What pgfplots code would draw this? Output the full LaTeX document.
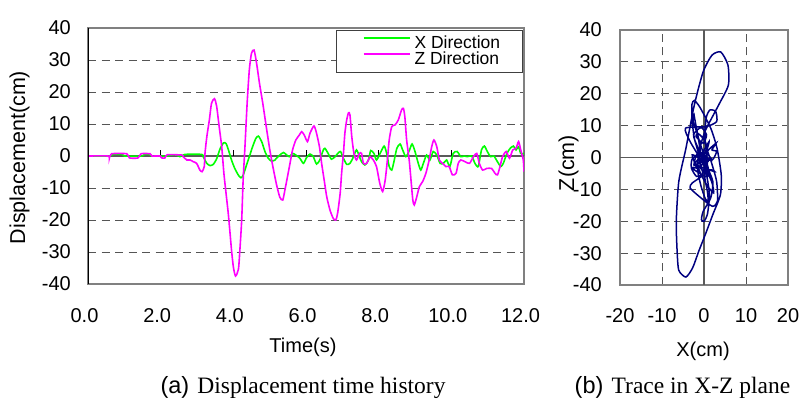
\documentclass[border=0pt]{standalone}
\usepackage{fontspec}
\setmainfont{Liberation Sans}
\newfontfamily\capfont{Liberation Serif}
\usepackage{pgfplots}
\usepackage{pgfplotstable}
\pgfplotsset{compat=1.18}

\definecolor{xgreen}{RGB}{0,255,0}
\definecolor{zmag}{RGB}{255,0,255}
\definecolor{navytrace}{RGB}{0,0,128}
\definecolor{framegray}{RGB}{128,128,128}
\definecolor{gridgray}{RGB}{85,85,85}
\definecolor{zerogray}{RGB}{90,90,90}

% X direction displacement time history
\pgfplotstableread{
t x
0.00 0
0.60 0
0.68 0.5
0.95 0.5
1.00 0
1.48 0
1.55 0.5
1.70 0.5
1.75 0
2.20 0
2.26 0.3
2.44 0.3
2.53 -0.2
2.67 0.5
3.13 0.5
3.17 -0.2
3.27 -2.3
3.36 -3.0
3.45 -2.6
3.54 -0.9
3.63 2.1
3.73 4.1
3.80 3.9
3.86 2.1
3.95 -1.25
4.04 -3.9
4.14 -6.0
4.21 -6.8
4.27 -6.0
4.35 -3.3
4.44 -0.2
4.53 2.9
4.62 5.5
4.69 6.2
4.78 4.5
4.87 1.4
4.96 -0.7
5.05 -1.6
5.14 -1.3
5.19 -0.7
5.28 0.3
5.38 1.1
5.47 0.3
5.54 -0.2
5.63 0.8
5.72 0.3
5.83 -0.7
5.93 -2.3
6.02 -0.4
6.11 0.6
6.20 -0.2
6.29 -2.5
6.38 -1.25
6.47 1.7
6.52 2.4
6.61 0.8
6.70 -1.0
6.80 -0.2
6.89 1.0
6.95 1.4
7.03 -0.7
7.12 -2.6
7.21 -2.3
7.30 -0.4
7.39 1.9
7.47 -0.2
7.53 -1.8
7.62 -2.8
7.72 -1.25
7.78 1.7
7.87 0.8
7.94 -1.25
8.04 0.8
8.15 3.1
8.22 0.8
8.29 -3.3
8.36 -4.4
8.42 -1.8
8.50 2.4
8.59 3.75
8.66 1.9
8.75 -0.2
8.85 1.9
8.92 3.75
9.00 1.4
9.09 -2.3
9.16 -4.4
9.23 -2.3
9.32 0.3
9.41 -1.25
9.50 1.4
9.60 0.3
9.69 -2.3
9.78 -2.3
9.87 -1.25
9.96 -3.3
10.05 0.8
10.16 1.4
10.26 -0.2
10.35 0
10.44 -0.2
10.56 0
10.65 -2.3
10.74 -3.3
10.83 1.9
10.91 3.1
10.99 1.4
11.08 -0.2
11.17 0
11.27 -1.8
11.36 -3.3
11.43 -2.3
11.53 0.8
11.62 2.4
11.71 3.1
11.78 1.9
11.85 2.9
11.91 0.8
12.00 0.8
}\xtab

% Z direction (with X read at the same instants) for the time history and the X-Z trace
\pgfplotstableread{
t x z
0.00 0 0
0.55 0 0
0.59 0 -0.6
0.65 0.4 0.7
1.07 0.2 0.7
1.14 0 -0.6
1.38 0 -0.6
1.46 0 0.7
1.71 0.5 0.7
1.76 0 0
1.98 0 0
2.03 0 -0.6
2.12 0 -0.6
2.18 0 0.4
2.58 0 0.3
2.62 0.3 -0.2
2.72 0.5 -1.25
2.81 0.5 -1.25
2.90 0.5 -1.8
2.99 0.5 -2.3
3.08 0.5 -4.4
3.14 0.4 -4.9
3.20 -0.8 -3.3
3.22 -1.2 0.8
3.27 -2.3 6.0
3.34 -2.8 11.25
3.40 -2.9 16.5
3.48 -2.3 17.9
3.54 -0.9 15.6
3.61 1.6 9.2
3.68 3.1 2.9
3.74 4.1 -5.4
3.80 3.9 -11.7
3.86 2.1 -17.9
3.91 0.3 -24.2
3.95 -1.25 -29.4
4.00 -2.7 -34.6
4.06 -4.3 -37.5
4.14 -6.0 -35.4
4.18 -6.4 -29.4
4.23 -6.6 -20
4.27 -6.0 -7.5
4.32 -4.3 2.9
4.38 -2.3 16.5
4.44 -0.2 26.9
4.50 1.9 32.1
4.57 4.0 33.1
4.64 5.7 29
4.72 5.8 22.7
4.81 3.5 16.5
4.92 0.2 8.1
5.01 -1.2 1.5
5.10 -1.5 -4
5.19 -0.7 -9
5.28 0.3 -12.9
5.36 1.0 -13.75
5.42 0.8 -10.6
5.49 0.2 -6.5
5.56 0.1 -2.3
5.63 0.8 1.9
5.72 0.3 5
5.82 -0.6 6.6
5.88 -1.5 7.6
5.95 -1.9 6.6
6.04 -0.2 4.5
6.11 0.6 7.1
6.22 -0.7 9.4
6.29 -2.5 7.1
6.37 -1.4 2.9
6.43 0.5 -2.3
6.50 2.1 -7.5
6.57 1.6 -12.7
6.66 -0.2 -16.9
6.75 -0.6 -19.5
6.82 0 -20
6.87 0.8 -17.9
6.94 1.3 -11.7
6.98 0.6 -5.4
7.03 -0.7 0.8
7.07 -1.5 7.1
7.12 -2.6 11.25
7.17 -2.4 13.5
7.21 -2.3 12.8
7.26 -1.3 6.0
7.32 0.1 0.8
7.39 1.9 -1.25
7.47 -0.2 0.8
7.53 -1.8 0.8
7.58 -2.4 -2.3
7.67 -2.0 -2.3
7.76 1.0 -0.3
7.85 1.0 -1.2
7.94 -1.25 -3.3
8.03 0.6 -8.5
8.11 2.3 -11.1
8.18 1.8 -7.5
8.24 -0.5 -1.25
8.29 -3.3 5
8.36 -4.4 9.2
8.45 0.5 9.7
8.54 3.0 11.25
8.63 2.8 14.4
8.68 1.4 14.9
8.72 0.5 12.3
8.77 0.2 5
8.84 1.7 -1.25
8.89 3.0 -7.5
8.94 3.2 -13.75
8.98 2.0 -15.3
9.05 -0.7 -12.7
9.12 -3.3 -9.6
9.21 -2.8 -8.0
9.30 -0.3 -5.4
9.39 -0.9 -1.25
9.46 0.8 2.9
9.52 1.2 5.0
9.60 0.3 2.9
9.67 -1.8 -1.25
9.76 -2.3 -2.3
9.85 -1.5 -3.3
9.94 -2.9 -3.3
10.03 0.2 -5.9
10.13 1.2 -5.4
10.19 0.8 -2.3
10.26 -0.2 -1.25
10.38 -0.1 -1.8
10.50 -0.1 -2.3
10.61 -1.2 -0.2
10.70 -2.8 0.8
10.77 -1.8 -2.3
10.86 2.4 -4.4
10.97 1.8 -3.9
11.11 -0.1 -3.9
11.20 -0.4 -5.4
11.27 -1.8 -5.9
11.34 -3.0 -3.3
11.41 -2.7 -0.2
11.51 0.5 1.4
11.60 2.0 -0.7
11.69 3.0 1.9
11.78 1.9 2.4
11.85 2.9 4.5
11.91 0.8 1.9
11.98 0.8 -1.25
12.00 0.8 -4.9
}\xztab

\pgfplotsset{
  myaxis/.style={
    scale only axis,
    anchor=south west,
    axis line style={draw=framegray, line width=1.8bp},
    major tick length=0pt,
    tick style={draw=none},
    grid style={draw=gridgray, line width=0.9bp, dash pattern=on 8bp off 5.5bp},
    ymajorgrids,
    tick label style={font=\fontsize{20bp}{24bp}\selectfont},
    yticklabel style={anchor=east, inner sep=0pt},
    xticklabel style={anchor=base, inner sep=0pt},
  }
}

\begin{document}
\begin{tikzpicture}
\path[use as bounding box] (0bp,0bp) rectangle (810bp,405bp);

% ---------- (a) time history ----------
\begin{axis}[myaxis,
  at={(88bp,121bp)}, width=436bp, height=256bp,
  xmin=0, xmax=12, ymin=-40, ymax=40,
  xtick={0,2,4,6,8,10,12}, xticklabels={0.0,2.0,4.0,6.0,8.0,10.0,12.0},
  ytick={-40,-30,-20,-10,0,10,20,30,40},
  yticklabels={-40,-30,-20,-10,0,10,20,30,40},
  xticklabel style={xshift=-3.5bp, yshift=-38.5bp},
  yticklabel style={xshift=-17bp},
  legend cell align=left,
  legend image code/.code={\path (0bp,0bp); \draw[#1] (26bp,5.5bp) -- (72bp,5.5bp);},
  legend style={at={(0.998,0.992)}, anchor=north east,
    draw=black!75, line width=1bp, fill=white,
    inner xsep=0.5bp, inner ysep=5bp,
    font=\fontsize{17.5bp}{20bp}\selectfont,
    nodes={inner sep=0pt, text height=12.5bp, text depth=3.5bp},
    row sep=0pt, column sep=4bp},
]
\draw[zerogray, line width=1.3bp] (axis cs:0,0) -- (axis cs:12,0);
\pgfplotsinvokeforeach{2,4,6,8,10,12}{\draw[black, line width=1bp] (axis cs:#1,0) -- ++(0bp,6bp);}
\addplot[xgreen, line width=1.6bp, smooth, tension=0.4] table[x=t, y=x] {\xtab};
\addlegendentry{X Direction\hspace*{22bp}}
\addplot[zmag, line width=1.6bp, smooth, tension=0.4] table[x=t, y=z] {\xztab};
\addlegendentry{Z Direction\hspace*{22bp}}
\draw[black, line width=1.6bp] (rel axis cs:0,0) -- (rel axis cs:0,1);
\end{axis}

% ---------- (b) trace in X-Z plane ----------
\begin{axis}[myaxis,
  at={(620bp,120bp)}, width=168bp, height=255bp,
  xmin=-20, xmax=20, ymin=-40, ymax=40,
  xtick={-20,-10,0,10,20}, xticklabels={-20,-10,0,10,20},
  ytick={-40,-30,-20,-10,0,10,20,30,40},
  yticklabels={-40,-30,-20,-10,0,10,20,30,40},
  xmajorgrids,
  xticklabel style={yshift=-37.5bp},
  yticklabel style={xshift=-18bp},
]
\draw[zerogray, line width=1.3bp] (axis cs:0,-40) -- (axis cs:0,40);
\draw[zerogray, line width=1.3bp] (axis cs:-20,0) -- (axis cs:20,0);
\addplot[navytrace, line width=1.5bp, smooth, tension=0.4] table[x=x, y=z] {\xztab};
\end{axis}

% ---------- labels and captions ----------
\node[rotate=90, anchor=base, font=\fontsize{21.5bp}{25bp}\selectfont] at (25bp,247.5bp) {Displacement(cm)};
\node[anchor=base, font=\fontsize{20bp}{24bp}\selectfont] at (303bp,52bp) {Time(s)};
\node[rotate=90, anchor=base, font=\fontsize{21.5bp}{25bp}\selectfont] at (574bp,242bp) {Z(cm)};
\node[anchor=base, font=\fontsize{20bp}{24bp}\selectfont] at (703bp,48bp) {X(cm)};
\node[anchor=base, inner sep=0pt] at (303bp,12bp) {\fontsize{23.5bp}{28bp}\selectfont (a)\hspace{0.35em}\capfont Displacement time history};
\node[anchor=base, inner sep=0pt] at (682.5bp,12bp) {\fontsize{23.5bp}{28bp}\selectfont (b)\hspace{0.35em}\capfont Trace in X-Z plane};
\end{tikzpicture}
\end{document}
